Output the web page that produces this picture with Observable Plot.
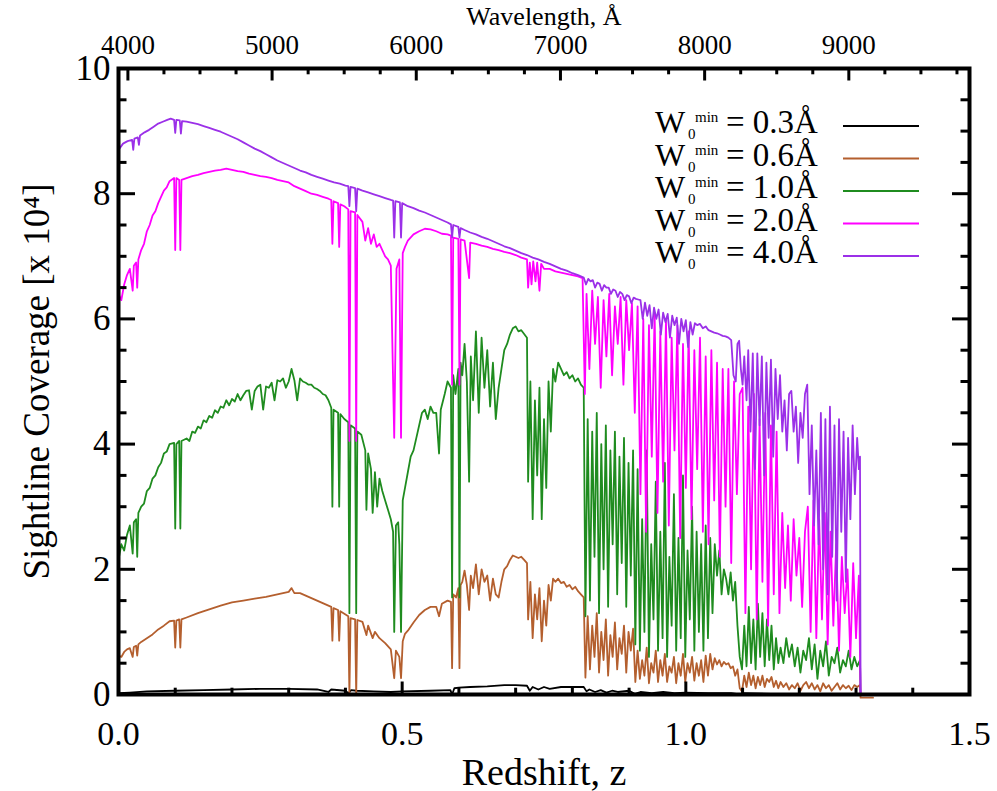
<!DOCTYPE html>
<html><head><meta charset="utf-8">
<script src="https://cdn.jsdelivr.net/npm/d3@7"></script>
<script src="https://cdn.jsdelivr.net/npm/@observablehq/plot@0.6"></script>
<style>html,body{margin:0;padding:0;background:#fff;} svg{display:block} #chart text{font-family:"Liberation Serif","Times New Roman",serif !important;font-variant-numeric:normal !important;}</style>
</head><body><div id="chart"></div>
<script>
// ---- data ----
const CAK = 3934.78; // rest wavelength used for top axis (Å)
const seriesLabels = ["0.3", "0.6", "1.0", "2.0", "4.0"];
const seriesColors = ["#000000", "#b45f2e", "#1f8c1f", "#ff00ff", "#9b30e8"];
const xMajor = [0, 0.5, 1.0, 1.5];
const xMinor = [0.1, 0.2, 0.3, 0.4, 0.6, 0.7, 0.8, 0.9, 1.1, 1.2, 1.3, 1.4];
const yMajor = [0, 2, 4, 6, 8, 10];
const yMinor = [0.5, 1, 1.5, 2.5, 3, 3.5, 4.5, 5, 5.5, 6.5, 7, 7.5, 8.5, 9, 9.5];
const waveMajor = [4000, 5000, 6000, 7000, 8000, 9000];
const waveMinor = [4250, 4500, 4750, 5250, 5500, 5750, 6250, 6500, 6750, 7250, 7500, 7750, 8250, 8500, 8750, 9250, 9500, 9750];

// W0min = 0.3 Å
const w03 = [[0.000,0.02],[0.020,0.03],[0.050,0.05],[0.100,0.06],[0.150,0.07],[0.200,0.08],[0.250,0.09],[0.300,0.09],[0.350,0.08],[0.370,0.04],[0.375,0.08],[0.400,0.06],[0.405,0.02],[0.410,0.07],[0.420,0.06],[0.450,0.05],[0.480,0.04],[0.500,0.05],[0.550,0.06],[0.585,0.07],[0.588,0.00],[0.592,0.10],[0.600,0.11],[0.620,0.12],[0.650,0.13],[0.680,0.15],[0.700,0.15],[0.720,0.14],[0.725,0.06],[0.730,0.12],[0.740,0.08],[0.750,0.12],[0.760,0.09],[0.780,0.12],[0.800,0.12],[0.820,0.12],[0.825,0.05],[0.830,0.08],[0.840,0.04],[0.850,0.07],[0.860,0.03],[0.870,0.06],[0.880,0.04],[0.900,0.06],[0.910,0.01],[0.920,0.04],[0.940,0.02],[0.960,0.04],[0.980,0.02],[1.000,0.03],[1.040,0.02],[1.080,0.02],[1.095,0.00],[1.100,0.02],[1.150,0.01],[1.200,0.01],[1.250,0.01],[1.307,0.00]];

// W0min = 0.6 Å
const w06 = [[0.000,0.62],[0.005,0.60],[0.010,0.68],[0.015,0.72],[0.020,0.74],[0.025,0.60],[0.027,0.76],[0.031,0.78],[0.033,0.62],[0.035,0.80],[0.040,0.84],[0.050,0.90],[0.060,0.96],[0.070,1.04],[0.080,1.10],[0.090,1.17],[0.098,1.18],[0.100,0.75],[0.102,1.18],[0.107,1.20],[0.109,0.75],[0.111,1.20],[0.120,1.23],[0.140,1.30],[0.160,1.36],[0.180,1.42],[0.200,1.47],[0.220,1.50],[0.240,1.53],[0.260,1.56],[0.280,1.60],[0.300,1.64],[0.305,1.70],[0.310,1.62],[0.320,1.62],[0.340,1.54],[0.360,1.46],[0.375,1.40],[0.377,0.86],[0.379,1.38],[0.387,1.35],[0.389,0.86],[0.391,1.33],[0.405,1.25],[0.407,0.00],[0.409,1.22],[0.417,1.20],[0.419,0.00],[0.421,1.19],[0.430,1.16],[0.437,0.95],[0.440,1.10],[0.448,0.90],[0.452,1.00],[0.460,0.90],[0.470,0.82],[0.480,0.72],[0.486,0.26],[0.489,0.70],[0.495,0.60],[0.498,0.26],[0.501,0.85],[0.505,0.97],[0.510,1.02],[0.520,1.15],[0.530,1.27],[0.540,1.35],[0.550,1.40],[0.560,1.40],[0.565,1.25],[0.570,1.45],[0.580,1.50],[0.586,1.48],[0.588,0.42],[0.590,1.60],[0.595,1.55],[0.599,1.70],[0.601,0.42],[0.603,1.75],[0.606,1.80],[0.610,1.98],[0.614,1.75],[0.618,1.35],[0.621,1.90],[0.625,1.70],[0.630,2.08],[0.635,1.60],[0.640,2.00],[0.645,1.80],[0.650,1.90],[0.655,1.50],[0.660,1.85],[0.665,1.60],[0.670,1.55],[0.675,1.80],[0.680,2.00],[0.685,2.05],[0.690,2.15],[0.695,2.22],[0.700,2.20],[0.705,2.18],[0.710,2.20],[0.715,2.15],[0.720,2.10],[0.722,1.20],[0.726,1.80],[0.730,0.90],[0.734,1.60],[0.738,1.20],[0.742,1.70],[0.746,0.85],[0.750,1.50],[0.754,1.10],[0.758,1.75],[0.762,1.50],[0.766,1.85],[0.770,1.80],[0.775,1.85],[0.780,1.78],[0.785,1.80],[0.790,1.72],[0.795,1.75],[0.800,1.68],[0.805,1.72],[0.810,1.65],[0.815,1.60],[0.820,1.55],[0.823,0.27],[0.827,1.25],[0.831,0.40],[0.835,1.10],[0.839,0.60],[0.843,1.30],[0.847,0.35],[0.851,1.00],[0.855,0.55],[0.859,1.20],[0.863,0.30],[0.867,0.95],[0.871,0.60],[0.875,1.15],[0.879,0.40],[0.883,0.90],[0.887,0.65],[0.891,1.10],[0.895,0.35],[0.899,1.00],[0.903,0.70],[0.907,1.05],[0.911,0.20],[0.915,0.70],[0.919,0.25],[0.923,0.55],[0.927,0.30],[0.931,0.75],[0.935,0.18],[0.939,0.50],[0.943,0.35],[0.947,0.70],[0.951,0.20],[0.955,0.55],[0.959,0.30],[0.963,0.65],[0.967,0.20],[0.971,0.45],[0.975,0.35],[0.979,0.60],[0.983,0.18],[0.987,0.50],[0.991,0.30],[0.995,0.65],[0.999,0.20],[1.003,0.50],[1.007,0.35],[1.011,0.60],[1.015,0.22],[1.019,0.50],[1.023,0.30],[1.027,0.55],[1.031,0.20],[1.035,0.62],[1.039,0.30],[1.043,0.65],[1.047,0.40],[1.051,0.58],[1.055,0.48],[1.059,0.55],[1.063,0.45],[1.067,0.52],[1.071,0.48],[1.075,0.50],[1.079,0.42],[1.083,0.45],[1.087,0.30],[1.091,0.40],[1.095,0.10],[1.099,0.05],[1.103,0.30],[1.107,0.12],[1.111,0.35],[1.115,0.15],[1.119,0.30],[1.123,0.10],[1.127,0.28],[1.131,0.15],[1.135,0.30],[1.139,0.12],[1.143,0.25],[1.147,0.20],[1.151,0.28],[1.155,0.12],[1.159,0.22],[1.163,0.10],[1.167,0.20],[1.172,0.12],[1.177,0.18],[1.182,0.08],[1.187,0.15],[1.192,0.10],[1.197,0.18],[1.202,0.06],[1.207,0.15],[1.212,0.20],[1.217,0.10],[1.222,0.18],[1.227,0.08],[1.232,0.15],[1.237,0.05],[1.242,0.18],[1.247,0.10],[1.252,0.15],[1.257,0.06],[1.262,0.12],[1.267,0.18],[1.272,0.08],[1.277,0.15],[1.282,0.10],[1.287,0.14],[1.292,0.07],[1.297,0.15],[1.302,0.12],[1.307,0.15],[1.308,-0.05],[1.330,-0.05]];

// W0min = 1.0 Å
const w10 = [[0.000,2.15],[0.005,2.40],[0.010,2.30],[0.015,2.55],[0.020,2.70],[0.025,2.25],[0.027,2.75],[0.031,2.80],[0.033,2.20],[0.035,2.90],[0.040,3.00],[0.045,3.05],[0.050,3.25],[0.055,3.30],[0.060,3.45],[0.065,3.50],[0.070,3.63],[0.075,3.70],[0.080,3.85],[0.085,3.88],[0.090,4.00],[0.098,4.02],[0.100,2.65],[0.102,4.00],[0.107,4.05],[0.109,2.65],[0.111,4.05],[0.120,4.09],[0.125,4.05],[0.130,4.20],[0.135,4.18],[0.140,4.28],[0.145,4.25],[0.150,4.38],[0.155,4.35],[0.160,4.45],[0.165,4.42],[0.170,4.54],[0.175,4.50],[0.180,4.60],[0.185,4.58],[0.190,4.70],[0.195,4.62],[0.200,4.72],[0.205,4.68],[0.210,4.80],[0.215,4.70],[0.220,4.78],[0.225,4.85],[0.230,4.86],[0.235,4.55],[0.240,4.85],[0.245,4.92],[0.250,4.95],[0.255,4.55],[0.260,4.92],[0.265,4.90],[0.270,4.98],[0.275,4.70],[0.280,5.02],[0.285,5.00],[0.290,5.05],[0.295,4.90],[0.300,5.00],[0.305,5.20],[0.310,5.02],[0.315,4.70],[0.320,5.05],[0.325,5.00],[0.330,4.98],[0.335,4.95],[0.340,4.95],[0.345,4.90],[0.350,4.88],[0.355,4.85],[0.360,4.80],[0.365,4.78],[0.370,4.70],[0.375,4.58],[0.377,3.00],[0.379,4.55],[0.387,4.50],[0.389,3.00],[0.391,4.48],[0.398,4.40],[0.405,4.35],[0.407,1.30],[0.409,4.30],[0.417,4.25],[0.419,1.30],[0.421,4.20],[0.428,4.15],[0.435,3.90],[0.437,2.95],[0.440,3.85],[0.445,3.60],[0.448,2.90],[0.452,3.55],[0.456,3.00],[0.460,3.45],[0.465,3.25],[0.470,3.10],[0.475,2.95],[0.480,2.80],[0.484,2.60],[0.486,1.00],[0.489,2.70],[0.493,2.75],[0.495,2.40],[0.498,1.00],[0.501,3.10],[0.505,3.30],[0.510,3.55],[0.515,3.80],[0.520,3.90],[0.525,4.10],[0.530,4.30],[0.535,4.50],[0.540,4.55],[0.545,4.40],[0.550,4.60],[0.555,4.50],[0.560,4.50],[0.565,3.85],[0.568,4.55],[0.575,4.80],[0.580,5.00],[0.586,4.90],[0.588,1.55],[0.590,5.10],[0.594,4.80],[0.599,5.20],[0.601,1.55],[0.603,5.30],[0.606,5.10],[0.610,5.60],[0.614,5.00],[0.618,3.40],[0.621,5.40],[0.625,4.70],[0.630,5.80],[0.635,4.50],[0.640,5.70],[0.645,4.90],[0.650,5.50],[0.655,4.60],[0.660,5.30],[0.665,4.40],[0.670,4.90],[0.675,5.20],[0.680,5.50],[0.685,5.60],[0.690,5.75],[0.695,5.85],[0.700,5.88],[0.705,5.80],[0.710,5.82],[0.715,5.76],[0.720,5.70],[0.722,3.40],[0.726,5.00],[0.730,2.80],[0.734,4.70],[0.738,3.50],[0.742,4.90],[0.746,2.80],[0.750,4.40],[0.754,3.30],[0.758,5.00],[0.762,4.20],[0.766,5.20],[0.770,5.00],[0.775,5.30],[0.780,5.20],[0.785,5.10],[0.790,5.15],[0.795,5.05],[0.800,5.10],[0.805,5.00],[0.810,5.05],[0.815,4.95],[0.820,4.90],[0.823,1.25],[0.827,4.40],[0.831,1.50],[0.835,4.20],[0.839,2.20],[0.843,4.50],[0.847,1.30],[0.851,4.00],[0.855,2.00],[0.859,4.30],[0.863,1.40],[0.867,3.90],[0.871,2.40],[0.875,4.20],[0.879,1.60],[0.883,3.80],[0.887,2.10],[0.891,4.10],[0.895,1.40],[0.899,3.70],[0.903,1.90],[0.907,3.90],[0.911,0.80],[0.915,3.60],[0.919,0.70],[0.923,2.80],[0.927,1.00],[0.931,3.90],[0.935,0.60],[0.939,2.40],[0.943,1.20],[0.947,3.40],[0.951,0.70],[0.955,2.60],[0.959,0.90],[0.963,3.70],[0.967,0.60],[0.971,2.20],[0.975,1.10],[0.979,3.20],[0.983,0.70],[0.987,2.50],[0.991,0.90],[0.995,3.50],[0.999,0.60],[1.003,2.30],[1.007,1.20],[1.011,3.00],[1.015,0.70],[1.019,2.60],[1.023,1.00],[1.027,2.40],[1.031,0.70],[1.035,2.70],[1.039,0.90],[1.043,2.50],[1.047,1.30],[1.051,2.40],[1.055,1.90],[1.059,2.30],[1.063,1.60],[1.067,2.00],[1.071,1.85],[1.075,1.60],[1.079,1.95],[1.083,1.50],[1.087,1.80],[1.091,1.10],[1.095,0.60],[1.099,0.40],[1.103,1.10],[1.107,0.45],[1.111,1.40],[1.115,0.50],[1.119,1.20],[1.123,0.40],[1.127,1.45],[1.131,0.60],[1.135,1.30],[1.139,0.45],[1.143,1.20],[1.147,0.55],[1.151,1.10],[1.155,0.40],[1.159,0.90],[1.163,0.50],[1.167,0.75],[1.172,0.50],[1.177,0.90],[1.182,0.60],[1.187,0.80],[1.192,0.45],[1.197,0.75],[1.202,0.35],[1.207,0.70],[1.212,0.55],[1.217,0.90],[1.222,0.40],[1.227,0.80],[1.232,0.25],[1.237,0.70],[1.242,0.45],[1.247,0.85],[1.252,0.30],[1.257,0.60],[1.262,0.50],[1.267,0.75],[1.272,0.35],[1.277,0.55],[1.282,0.45],[1.287,0.70],[1.292,0.40],[1.297,0.60],[1.302,0.45],[1.307,0.55],[1.308,0.00]];

// W0min = 2.0 Å
const w20 = [[0.000,6.40],[0.005,6.30],[0.010,6.55],[0.015,6.70],[0.020,6.80],[0.025,6.45],[0.027,6.85],[0.031,6.90],[0.033,6.50],[0.035,6.95],[0.040,7.10],[0.045,7.20],[0.050,7.40],[0.055,7.50],[0.060,7.65],[0.065,7.72],[0.070,7.85],[0.075,7.95],[0.080,8.05],[0.085,8.10],[0.090,8.20],[0.098,8.25],[0.100,7.10],[0.102,8.25],[0.107,8.22],[0.109,7.10],[0.111,8.22],[0.120,8.25],[0.130,8.28],[0.140,8.30],[0.150,8.33],[0.160,8.35],[0.170,8.37],[0.180,8.38],[0.190,8.40],[0.200,8.38],[0.210,8.36],[0.220,8.35],[0.230,8.32],[0.240,8.30],[0.250,8.28],[0.260,8.27],[0.270,8.25],[0.280,8.22],[0.290,8.20],[0.300,8.18],[0.310,8.12],[0.320,8.08],[0.330,8.04],[0.340,8.00],[0.350,7.98],[0.360,7.95],[0.370,7.92],[0.375,7.90],[0.377,7.20],[0.379,7.88],[0.387,7.85],[0.389,7.15],[0.391,7.83],[0.398,7.80],[0.405,7.75],[0.407,4.05],[0.409,7.72],[0.417,7.70],[0.419,4.05],[0.421,7.66],[0.430,7.55],[0.435,7.25],[0.440,7.45],[0.445,7.20],[0.450,7.35],[0.455,7.15],[0.460,7.20],[0.465,7.10],[0.470,7.00],[0.475,6.95],[0.480,6.85],[0.486,4.10],[0.490,6.80],[0.495,6.95],[0.498,4.10],[0.501,7.05],[0.505,7.15],[0.510,7.25],[0.520,7.35],[0.530,7.40],[0.540,7.44],[0.550,7.43],[0.560,7.40],[0.570,7.36],[0.580,7.35],[0.586,7.33],[0.588,4.95],[0.590,7.30],[0.599,7.28],[0.601,4.95],[0.603,7.27],[0.610,7.25],[0.618,6.65],[0.620,7.22],[0.630,7.20],[0.640,7.17],[0.650,7.15],[0.660,7.12],[0.670,7.10],[0.680,7.07],[0.690,7.05],[0.700,7.02],[0.710,6.98],[0.720,6.95],[0.722,6.50],[0.725,6.90],[0.728,6.55],[0.731,6.92],[0.735,6.60],[0.738,6.90],[0.742,6.45],[0.745,6.88],[0.750,6.80],[0.760,6.80],[0.770,6.76],[0.780,6.74],[0.790,6.72],[0.800,6.70],[0.810,6.68],[0.818,6.65],[0.822,4.80],[0.825,6.40],[0.830,5.20],[0.835,6.45],[0.840,5.60],[0.845,6.35],[0.850,4.90],[0.855,6.30],[0.860,5.40],[0.865,6.40],[0.870,5.10],[0.875,6.20],[0.880,5.60],[0.885,6.35],[0.890,4.95],[0.895,6.30],[0.900,5.50],[0.905,6.25],[0.910,4.50],[0.915,6.20],[0.920,3.20],[0.925,6.00],[0.930,2.60],[0.935,5.90],[0.940,3.80],[0.945,6.10],[0.950,2.90],[0.955,5.80],[0.960,3.40],[0.965,6.00],[0.970,2.70],[0.975,5.70],[0.980,3.90],[0.985,5.90],[0.990,2.50],[0.995,5.60],[1.000,3.30],[1.005,5.80],[1.010,2.80],[1.015,5.50],[1.020,3.60],[1.025,5.70],[1.030,2.60],[1.035,5.40],[1.040,2.40],[1.045,5.50],[1.050,3.10],[1.055,5.30],[1.060,2.20],[1.065,5.20],[1.070,3.00],[1.075,5.20],[1.080,2.10],[1.085,5.00],[1.090,3.20],[1.095,4.80],[1.100,4.90],[1.105,1.30],[1.110,4.60],[1.115,2.00],[1.120,4.80],[1.125,1.20],[1.130,4.40],[1.135,1.80],[1.140,4.50],[1.145,1.10],[1.150,4.30],[1.155,1.60],[1.160,4.20],[1.165,1.30],[1.170,2.90],[1.175,1.70],[1.180,2.70],[1.185,1.50],[1.190,2.80],[1.195,1.90],[1.200,2.50],[1.205,1.40],[1.210,2.60],[1.215,3.00],[1.220,1.00],[1.225,3.10],[1.230,0.90],[1.235,2.80],[1.240,1.20],[1.245,2.90],[1.250,0.80],[1.255,2.60],[1.260,1.10],[1.265,2.40],[1.270,0.70],[1.275,2.20],[1.280,1.30],[1.285,2.00],[1.290,0.60],[1.295,2.10],[1.300,0.90],[1.305,1.90],[1.307,0.60],[1.308,0.00]];

// W0min = 4.0 Å
const w40 = [[0.000,8.70],[0.008,8.80],[0.016,8.84],[0.024,8.86],[0.026,8.70],[0.028,8.88],[0.034,8.90],[0.036,8.78],[0.038,8.93],[0.046,8.98],[0.054,9.02],[0.062,9.07],[0.070,9.12],[0.078,9.15],[0.086,9.18],[0.092,9.20],[0.098,9.18],[0.100,8.97],[0.102,9.18],[0.108,9.17],[0.110,8.96],[0.112,9.16],[0.120,9.15],[0.130,9.13],[0.140,9.11],[0.150,9.08],[0.160,9.05],[0.170,9.02],[0.180,8.99],[0.190,8.95],[0.200,8.91],[0.210,8.87],[0.220,8.82],[0.230,8.77],[0.240,8.72],[0.250,8.68],[0.260,8.63],[0.270,8.58],[0.280,8.53],[0.290,8.49],[0.300,8.45],[0.310,8.41],[0.320,8.37],[0.330,8.34],[0.340,8.30],[0.350,8.27],[0.360,8.24],[0.370,8.21],[0.380,8.18],[0.390,8.16],[0.400,8.13],[0.405,8.12],[0.407,7.80],[0.409,8.11],[0.417,8.09],[0.419,7.72],[0.421,8.08],[0.430,8.05],[0.440,8.02],[0.450,7.99],[0.460,7.96],[0.470,7.93],[0.480,7.90],[0.484,7.89],[0.486,7.30],[0.488,7.88],[0.496,7.86],[0.498,7.30],[0.500,7.85],[0.510,7.80],[0.520,7.77],[0.530,7.73],[0.540,7.70],[0.550,7.66],[0.560,7.62],[0.570,7.58],[0.580,7.54],[0.586,7.51],[0.588,7.30],[0.590,7.50],[0.599,7.47],[0.601,7.30],[0.603,7.45],[0.610,7.42],[0.620,7.38],[0.630,7.35],[0.640,7.31],[0.650,7.28],[0.660,7.24],[0.670,7.20],[0.680,7.16],[0.690,7.13],[0.700,7.09],[0.710,7.05],[0.720,7.02],[0.730,6.98],[0.740,6.95],[0.750,6.91],[0.760,6.88],[0.770,6.84],[0.780,6.80],[0.790,6.77],[0.800,6.73],[0.810,6.70],[0.820,6.66],[0.824,6.55],[0.828,6.64],[0.832,6.60],[0.836,6.62],[0.840,6.50],[0.844,6.58],[0.848,6.56],[0.852,6.45],[0.856,6.54],[0.860,6.50],[0.864,6.50],[0.868,6.40],[0.872,6.47],[0.876,6.45],[0.880,6.35],[0.884,6.43],[0.888,6.40],[0.892,6.30],[0.896,6.38],[0.900,6.36],[0.904,6.25],[0.908,6.34],[0.912,6.32],[0.916,6.31],[0.920,6.30],[0.924,6.00],[0.928,6.26],[0.932,6.05],[0.936,6.22],[0.940,5.85],[0.944,6.18],[0.948,6.00],[0.952,6.15],[0.956,5.75],[0.960,6.10],[0.964,5.95],[0.968,6.08],[0.972,5.70],[0.976,6.05],[0.980,5.90],[0.984,6.02],[0.988,5.60],[0.992,6.00],[0.996,5.80],[1.000,5.98],[1.004,5.55],[1.008,5.95],[1.012,5.75],[1.016,5.93],[1.020,5.90],[1.025,5.92],[1.030,5.85],[1.035,5.88],[1.040,5.82],[1.045,5.80],[1.050,5.78],[1.055,5.77],[1.060,5.75],[1.065,5.73],[1.070,5.72],[1.075,5.70],[1.080,5.66],[1.084,5.10],[1.088,5.00],[1.091,5.60],[1.094,5.65],[1.097,5.20],[1.100,4.95],[1.103,5.40],[1.107,4.70],[1.110,5.50],[1.114,4.20],[1.118,5.45],[1.122,3.60],[1.126,5.45],[1.130,4.30],[1.134,5.40],[1.138,3.50],[1.142,5.30],[1.146,4.10],[1.150,5.35],[1.154,3.80],[1.158,5.20],[1.162,4.40],[1.166,5.10],[1.170,4.20],[1.174,4.70],[1.178,3.90],[1.182,4.80],[1.186,4.85],[1.190,4.20],[1.194,4.60],[1.198,3.70],[1.202,4.50],[1.206,4.10],[1.210,4.80],[1.214,4.95],[1.218,3.20],[1.222,4.30],[1.226,2.70],[1.230,3.90],[1.234,2.40],[1.238,4.50],[1.242,2.00],[1.246,4.40],[1.250,1.60],[1.254,4.60],[1.258,2.20],[1.262,4.30],[1.266,1.50],[1.270,4.40],[1.274,2.60],[1.278,4.20],[1.282,1.80],[1.286,4.10],[1.290,2.80],[1.294,4.30],[1.298,3.20],[1.302,4.10],[1.305,3.60],[1.307,3.80],[1.308,0.00]];

const series = [w03, w06, w10, w20, w40];

// ---- layout ----
const W = 997, H = 791, mL = 118, mR = 28, mT = 68, mB = 97;
const pw = W - mL - mR, ph = H - mT - mB;
const toZ = w => w / CAK - 1;
const FONT = "'Liberation Serif', 'Times New Roman', serif";

const marks = [];
series.forEach((s, i) => marks.push(Plot.line(s, {x: d => d[0], y: d => d[1], stroke: seriesColors[i], strokeWidth: 1.8})));
// inward ticks
marks.push(Plot.ruleX(xMajor, {x: d => d, insetTop: ph - 12.5, strokeWidth: 3}));
marks.push(Plot.ruleX(xMinor, {x: d => d, insetTop: ph - 6.3, strokeWidth: 3}));
marks.push(Plot.ruleX(waveMajor, {x: toZ, insetBottom: ph - 12.5, strokeWidth: 3}));
marks.push(Plot.ruleX(waveMinor, {x: toZ, insetBottom: ph - 6.3, strokeWidth: 3}));
marks.push(Plot.ruleY(yMajor, {y: d => d, insetRight: pw - 17, strokeWidth: 3}));
marks.push(Plot.ruleY(yMinor, {y: d => d, insetRight: pw - 8.5, strokeWidth: 3}));
marks.push(Plot.ruleY(yMajor, {y: d => d, insetLeft: pw - 17, strokeWidth: 3}));
marks.push(Plot.ruleY(yMinor, {y: d => d, insetLeft: pw - 8.5, strokeWidth: 3}));
marks.push(Plot.frame({stroke: "black", strokeWidth: 4}));
// tick labels
marks.push(Plot.axisX(xMajor, {anchor: "bottom", tickSize: 0, tickPadding: 26, tickFormat: d3.format(".1f"), fontSize: 34, fontFamily: FONT, label: null}));
marks.push(Plot.axisX(waveMajor.map(toZ), {anchor: "top", tickSize: 0, tickPadding: 15, tickFormat: z => String(Math.round((1 + z) * CAK / 100) * 100), fontSize: 27, fontFamily: FONT, label: null}));
marks.push(Plot.axisY(yMajor, {anchor: "left", tickSize: 0, tickPadding: 8, tickFormat: d => String(d), fontSize: 35, fontFamily: FONT, label: null}));
// titles
marks.push(Plot.text(["Redshift, z"], {frameAnchor: "bottom", dy: 90, lineAnchor: "bottom", fontSize: 38, fontFamily: FONT}));
marks.push(Plot.text(["Wavelength, Å"], {frameAnchor: "top", dy: -44, lineAnchor: "bottom", fontSize: 26, fontFamily: FONT}));
marks.push(Plot.text(["Sightline Coverage [x 10⁴]"], {frameAnchor: "left", textAnchor: "middle", dx: -81, rotate: -90, fontSize: 37, fontFamily: FONT}));

const plot = Plot.plot({
  width: W, height: H,
  marginLeft: mL, marginRight: mR, marginTop: mT, marginBottom: mB,
  x: {domain: [0, 1.5]},
  y: {domain: [0, 10]},
  style: {fontFamily: FONT, background: "white", color: "black", overflow: "visible"},
  marks
});

// legend
const svg = d3.select(plot);
const g = svg.append("g").attr("font-family", FONT).attr("fill", "black").attr("text-anchor", "start");
seriesLabels.forEach((lab, i) => {
  const y = 133 + i * 32.5;
  g.append("text").attr("x", 655).attr("y", y).attr("font-size", 32).text("W");
  g.append("text").attr("x", 688).attr("y", y + 6).attr("font-size", 15).text("0");
  g.append("text").attr("x", 695).attr("y", y - 11).attr("font-size", 15).text("min");
  g.append("text").attr("x", 726).attr("y", y).attr("font-size", 33).text("= " + lab + "Å");
  g.append("line").attr("x1", 843).attr("x2", 919).attr("y1", y - 7).attr("y2", y - 7)
    .attr("stroke", seriesColors[i]).attr("stroke-width", 2);
});

document.getElementById("chart").appendChild(plot);
</script>
</body></html>
